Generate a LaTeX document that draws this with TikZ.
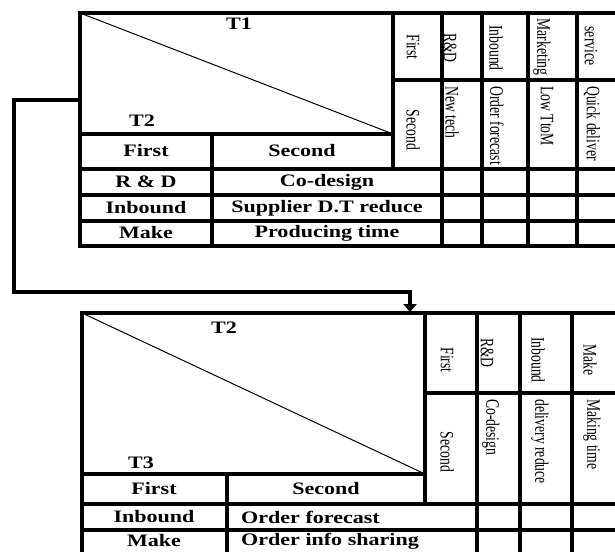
\documentclass[tikz,border=0pt]{standalone}
\usepackage{fontspec}
\setmainfont{Liberation Serif}
\newfontfamily\headfont{Liberation Serif}[FakeStretch=1.26]
\newfontfamily\sidefont{Liberation Serif}[FakeStretch=0.72]
\usetikzlibrary{arrows.meta}

\tikzset{
  grid/.style={line width=3.5pt},
  cell/.style={font=\headfont\bfseries\fontsize{17.5}{17.5}\selectfont, inner sep=0pt},
  vcell/.style={font=\sidefont\fontsize{19}{19}\selectfont, rotate=-90, inner sep=0pt},
  flow/.style={line width=3.5pt, -{Triangle[width=13pt,length=8pt]}}
}

\begin{document}
\begin{tikzpicture}[x=1pt, y=-1pt]
  \useasboundingbox (0, 0) rectangle (615, 551);
  \clip (0, 0) rectangle (615, 551);
	%Top table
	\draw [grid] (80, 13) rectangle (625, 246);
	\draw [line width=1pt] (80, 13) -- (393, 134);
	\draw [grid] (80, 134) -- (393, 134);
	\draw [grid] (393, 13) -- (393, 169);
	\draw [grid] (393, 80) -- (625, 80);
	\draw [grid] (212, 134) -- (212, 246);
	\foreach \y in {169, 195, 221}
		\draw [grid] (80, \y) -- (625, \y);
	\foreach \x in {442, 482, 528, 577}
		\draw [grid] (\x, 13) -- (\x, 246);
	\node [cell] (tOneA) at (239, 24) {T1};
	\node [cell] (tTwoA) at (142, 121) {T2};
	\node [cell] (firstA) at (146, 151) {First};
	\node [cell] (secondA) at (302, 151) {Second};
	\node [cell] (rdA) at (146, 182) {R \& D};
	\node [cell] (inboundA) at (146, 208) {Inbound};
	\node [cell] (makeA) at (146, 233) {Make};
	\node [cell] (codesignA) at (327, 182) {Co-design};
	\node [cell] (supplierA) at (327, 208) {Supplier D.T reduce};
	\node [cell] (producingA) at (327, 233) {Producing time};
	%Top table, side header
	\node [vcell] (vFirstA) at (413, 47) {First};
	\node [vcell] (vSecondA) at (413, 130) {Second};
	\node [vcell] (vRdA) at (450, 48) {R\&D};
	\node [vcell, anchor=west] (vNewtechA) at (452, 86) {New tech};
	\node [vcell] (vInboundA) at (496, 48) {Inbound};
	\node [vcell, anchor=west] (vForecastA) at (497, 86) {Order forecast};
	\node [vcell] (vMarketingA) at (542, 47) {Marketing};
	\node [vcell, anchor=west] (vTtomA) at (547, 86) {Low TtoM};
	\node [vcell] (vServiceA) at (591, 46) {service};
	\node [vcell, anchor=west] (vQuickA) at (592, 86) {Quick deliver};
	%Arrow from top table to bottom table
	\coordinate (outA) at (80, 100);
	\coordinate (turnA) at (14, 100);
	\coordinate (turnB) at (14, 292);
	\coordinate (inB) at (410, 312);
	\draw [flow] (outA) -- (turnA) -- (turnB) -| (inB);
	%Bottom table
	\draw [grid] (82, 313) rectangle (625, 570);
	\draw [line width=1pt] (82, 313) -- (425, 474);
	\draw [grid] (82, 474) -- (425, 474);
	\draw [grid] (425, 313) -- (425, 504);
	\draw [grid] (425, 393) -- (625, 393);
	\draw [grid] (227, 474) -- (227, 570);
	\foreach \y in {504, 530}
		\draw [grid] (82, \y) -- (625, \y);
	\foreach \x in {477, 520, 572}
		\draw [grid] (\x, 313) -- (\x, 570);
	\node [cell] (tTwoB) at (224, 328) {T2};
	\node [cell] (tThreeB) at (141, 463) {T3};
	\node [cell] (firstB) at (154, 489) {First};
	\node [cell] (secondB) at (326, 489) {Second};
	\node [cell] (inboundB) at (154, 517) {Inbound};
	\node [cell] (makeB) at (154, 541) {Make};
	\node [cell, anchor=west] (forecastB) at (241, 517) {Order forecast};
	\node [cell, anchor=west] (sharingB) at (241, 541) {Order info sharing};
	%Bottom table, side header
	\node [vcell] (vFirstB) at (447, 360) {First};
	\node [vcell] (vSecondB) at (447, 452) {Second};
	\node [vcell] (vRdB) at (487, 353) {R\&D};
	\node [vcell, anchor=west] (vCodesignB) at (491, 399) {Co-design};
	\node [vcell] (vInboundB) at (538, 360) {Inbound};
	\node [vcell, anchor=west] (vDeliveryB) at (540, 399) {delivery reduce};
	\node [vcell] (vMakeB) at (590, 360) {Make};
	\node [vcell, anchor=west] (vMakingB) at (592, 399) {Making time};
\end{tikzpicture}
\end{document}
